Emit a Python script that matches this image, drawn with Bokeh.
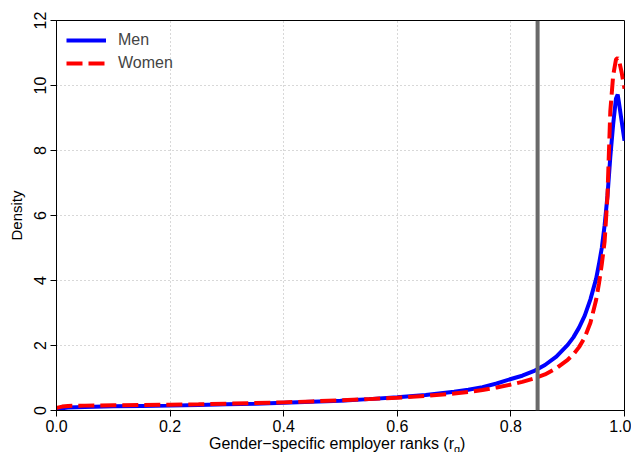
from bokeh.plotting import figure
from bokeh.models import Span, Legend, LegendItem, FixedTicker, Range1d, Div
from bokeh.layouts import column
from bokeh.embed import file_html
from bokeh.resources import INLINE

# ranks (x) shared by both density curves
ranks = [0.0, 0.01, 0.02, 0.05, 0.1, 0.15, 0.2, 0.25, 0.3, 0.35, 0.4, 0.45, 0.5,
         0.55, 0.6, 0.65, 0.7, 0.725, 0.75, 0.775, 0.8, 0.82, 0.84, 0.86, 0.88,
         0.9, 0.91, 0.92, 0.93, 0.94, 0.95, 0.955, 0.96, 0.965, 0.97, 0.975,
         0.98, 0.985, 0.988, 0.99, 0.995, 1.0]
men = [0.04, 0.07, 0.09, 0.11, 0.13, 0.14, 0.15, 0.17, 0.19, 0.21, 0.24, 0.27, 0.3,
       0.35, 0.41, 0.48, 0.58, 0.64, 0.72, 0.83, 0.97, 1.07, 1.21, 1.4, 1.66,
       2.02, 2.25, 2.55, 2.92, 3.42, 4.05, 4.5, 5.0, 5.7, 6.6, 7.8,
       8.8, 9.6, 9.72, 9.5, 8.9, 8.3]
women = [0.08, 0.12, 0.14, 0.15, 0.16, 0.17, 0.18, 0.19, 0.21, 0.23, 0.25, 0.28, 0.31,
         0.35, 0.39, 0.45, 0.52, 0.57, 0.63, 0.71, 0.8, 0.88, 0.98, 1.11, 1.3,
         1.56, 1.73, 1.95, 2.25, 2.7, 3.4, 3.9, 4.5, 5.2, 6.6, 9.2,
         10.3, 10.8, 10.85, 10.8, 10.4, 9.9]
mean_rank = 0.847
x_ticks = [0.0, 0.2, 0.4, 0.6, 0.8, 1.0]
y_ticks = [0, 2, 4, 6, 8, 10, 12]
x_title = "Gender\u2212specific employer ranks (r"
x_title_sub = "g"
y_title = "Density"
series_names = ["Men", "Women"]

FONT = "Liberation Sans"

p = figure(width=631, height=437, output_backend="svg", toolbar_location=None,
           x_range=Range1d(0, 1), y_range=Range1d(0, 12),
           min_border_left=56, min_border_right=7, min_border_top=20,
           min_border_bottom=27, margin=0)
p.background_fill_color = "white"
p.border_fill_color = "white"
p.outline_line_color = "black"
p.outline_line_width = 1

for ax in (p.xaxis[0], p.yaxis[0]):
    ax.major_label_text_font = FONT
    ax.major_label_text_font_size = "16px"
    ax.major_label_text_color = "black"
    ax.axis_line_color = "black"
    ax.major_tick_line_color = "black"
    ax.major_tick_out = 6
    ax.major_tick_in = 0
    ax.minor_tick_line_color = None
    ax.axis_label_text_font = FONT
    ax.axis_label_text_font_style = "normal"
    ax.axis_label_text_font_size = "15px"
    ax.axis_label_text_color = "black"

p.xaxis.ticker = FixedTicker(ticks=x_ticks)
p.xaxis.major_label_overrides = {t: f"{t:.1f}" for t in x_ticks}
p.xaxis.major_label_standoff = 3
p.yaxis.ticker = FixedTicker(ticks=y_ticks)
p.yaxis.major_label_orientation = "vertical"
p.yaxis.major_label_standoff = 5
p.yaxis.axis_label = y_title
p.yaxis.axis_label_standoff = 6

for g in (p.xgrid[0], p.ygrid[0]):
    g.grid_line_color = "#b0b0b0"
    g.grid_line_dash = "1 3"
    g.grid_line_width = 1
p.xgrid.ticker = FixedTicker(ticks=x_ticks)
p.ygrid.ticker = FixedTicker(ticks=y_ticks)

p.add_layout(Span(location=mean_rank, dimension="height", line_color="#6a6a6a",
                  line_width=4))

r_men = p.line(ranks, men, line_color="blue", line_width=4)
r_women = p.line(ranks, women, line_color="red", line_width=4, line_dash="16 6")

legend = Legend(items=[LegendItem(label=series_names[0], renderers=[r_men]),
                       LegendItem(label=series_names[1], renderers=[r_women])],
                location="top_left", border_line_color=None,
                background_fill_alpha=0, glyph_width=40, glyph_height=20,
                label_text_font=FONT, label_text_font_size="16px",
                label_standoff=12, spacing=3, padding=4, margin=10)
p.add_layout(legend)

title_html = (
    '<div style="position:relative;width:631px;height:15px;">'
    '<span style="position:absolute;left:209px;top:-2px;white-space:nowrap;'
    "font-family:'Liberation Sans';font-size:16px;color:black;line-height:normal;\">"
    f'{x_title}<sub style="font-size:11px;">{x_title_sub}</sub>)</span></div>'
)
xlab = Div(text=title_html, width=631, height=15, margin=0)

layout = column(p, xlab, spacing=0, margin=0)

open("out.html", "w").write(file_html(layout, INLINE))
